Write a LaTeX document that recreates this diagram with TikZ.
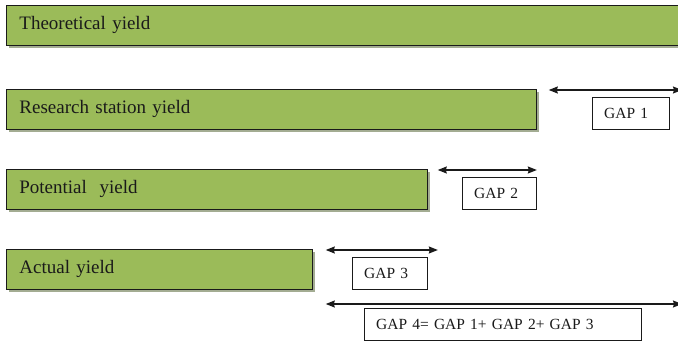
\documentclass[tikz,border=0pt]{standalone}
\usepackage{fontspec}
\setmainfont{Liberation Serif}
\usepackage{xcolor}
\usepackage{tikz}
\usetikzlibrary{arrows.meta,shadows}
\definecolor{blackmain}{HTML}{1A1A1A}
\definecolor{greenbar}{HTML}{9BBB59}
\definecolor{shadowgray}{HTML}{A3AC92}
\tikzset{bar/.style={draw=blackmain,thick,fill=greenbar,anchor=north west,
  minimum height=40pt,inner xsep=13pt,inner ysep=0pt,align=left,
  font=\fontsize{19}{21}\selectfont,text=blackmain,
  drop shadow={shadow xshift=2.5pt,shadow yshift=-3pt,fill=shadowgray,opacity=1}},
gapbox/.style={draw=blackmain,fill=white,anchor=north west,minimum height=32pt,
  inner xsep=12pt,inner ysep=0pt,align=left,font=\fontsize{15.5}{17}\selectfont,text=blackmain},
span/.style={{Stealth[length=9pt,width=7pt,inset=1pt]}-{Stealth[length=9pt,width=7pt,inset=1pt]},line width=1.3pt,blackmain}}

\begin{document}
\begin{tikzpicture}[x=1pt,y=-1pt]
\useasboundingbox (0,0) rectangle (678,342);
\clip (0,0) rectangle (678,342);
% yield levels
\foreach \name/\y/\w/\txt in {theo/5/684/{Theoretical yield},res/89/530/{Research station yield},
  pot/169/421/{Potential\ \ yield},act/249/306/{Actual yield}} {
\node[bar,text width=\w pt-26pt] (\name) at (6,\y) {\txt};
}
% gaps between levels
\coordinate (g1r) at (682,90);
\coordinate (g4r) at (682,304);
\coordinate (g4l) at ([xshift=13pt,yshift=-55pt]act.north east);
\draw[span] ([xshift=12pt,yshift=-1pt]res.north east) -- (g1r);
\draw[span] ([xshift=10pt,yshift=-1pt]pot.north east) -- ([yshift=-1pt]pot.north east -| res.east);
\draw[span] ([xshift=13pt,yshift=-1pt]act.north east) -- ([xshift=10pt,yshift=-1pt]act.north east -| pot.east);
\draw[span] (g4l) -- (g4r);
\foreach \name/\x/\y/\w/\txt in {gapa/592/97/77/{GAP 1},gapb/462/177/74/{GAP 2},
  gapc/352/257/75/{GAP 3},gapd/364/308/277/{GAP 4= GAP 1+ GAP 2+ GAP 3}} {
\node[gapbox,text width=\w pt-24pt] (\name) at (\x,\y) {\txt};
}
\end{tikzpicture}
\end{document}
